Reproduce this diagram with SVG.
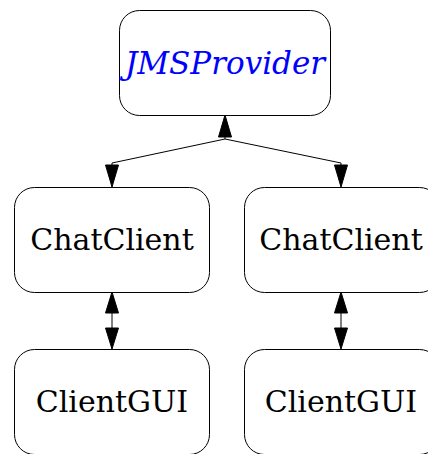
<svg xmlns="http://www.w3.org/2000/svg" width="428" height="454" viewBox="0 0 428 454">
  <style>
    .box { fill: #ffffff; stroke: #000000; stroke-width: 1; }
    .lbl { font-family: "DejaVu Serif", "Liberation Serif", serif; font-size: 30px; text-anchor: middle; fill: #000000; }
    .iface { font-style: italic; font-size: 31px; fill: #0000ff; }
    .edge { fill: none; stroke: #000000; stroke-width: 1; }
    .head { fill: #000000; stroke: #000000; stroke-width: 1; }
  </style>
  <rect width="428" height="454" fill="#ffffff"/>

  <g id="connectors">
    <!-- provider to both clients -->
    <path class="edge" d="M225,137 L225,139"/>
    <path class="head" d="M225,115 L218.5,137 L231.5,137 Z"/>
    <path class="edge" d="M225,139 L112,163 L112,165"/>
    <path class="head" d="M112,187 L105.5,165 L118.5,165 Z"/>
    <path class="edge" d="M225,139 L341,163 L341,165"/>
    <path class="head" d="M341,187 L334.5,165 L347.5,165 Z"/>
    <!-- client to GUI, both directions -->
    <path class="edge" d="M112,313 L112,328"/>
    <path class="head" d="M112,292 L105.5,313 L118.5,313 Z"/>
    <path class="head" d="M112,349 L105.5,328 L118.5,328 Z"/>
    <path class="edge" d="M341,313 L341,328"/>
    <path class="head" d="M341,292 L334.5,313 L347.5,313 Z"/>
    <path class="head" d="M341,349 L334.5,328 L347.5,328 Z"/>
  </g>

  <g id="JMSProvider">
    <rect class="box" x="119.5" y="10.5" width="211" height="105" rx="20" ry="20"/>
    <text class="lbl iface" x="225" y="74">JMSProvider</text>
  </g>
  <g id="ChatClient1">
    <rect class="box" x="14.5" y="187.5" width="195" height="105" rx="20" ry="20"/>
    <text class="lbl" x="112" y="250">ChatClient</text>
  </g>
  <g id="ChatClient2">
    <rect class="box" x="244.5" y="187.5" width="195" height="105" rx="20" ry="20"/>
    <text class="lbl" x="341" y="250">ChatClient</text>
  </g>
  <g id="ClientGUI1">
    <rect class="box" x="14.5" y="349.5" width="195" height="105" rx="20" ry="20"/>
    <text class="lbl" x="112" y="412">ClientGUI</text>
  </g>
  <g id="ClientGUI2">
    <rect class="box" x="244.5" y="349.5" width="195" height="105" rx="20" ry="20"/>
    <text class="lbl" x="341" y="412">ClientGUI</text>
  </g>
</svg>
